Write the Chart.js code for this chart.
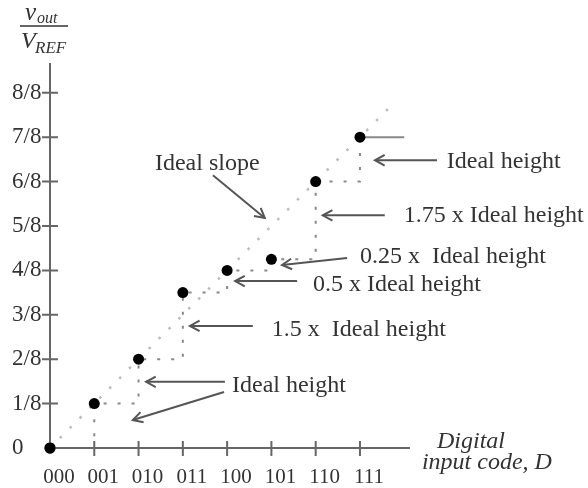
<!DOCTYPE html>
<html>
<head>
<meta charset="utf-8">
<script src="https://cdn.jsdelivr.net/npm/chart.js@4.4.1/dist/chart.umd.min.js"></script>
<style>
  html, body { margin: 0; padding: 0; background: #fff; }
  #wrap { width: 588px; height: 488px; }
</style>
</head>
<body>
<div id="wrap"><canvas id="dacChart"></canvas></div>
<script>
// digital input codes and the DAC output (in eighths of VREF)
const codeLabels = ['000', '001', '010', '011', '100', '101', '110', '111']
const codeValues = [0, 1, 2, 3, 4, 5, 6, 7]
const outputLevels = [0, 1, 2, 3.5, 4, 4.25, 6, 7]
const levelTicks = [0, 1, 2, 3, 4, 5, 6, 7, 8]
const levelLabels = ['0', '1/8', '2/8', '3/8', '4/8', '5/8', '6/8', '7/8', '8/8']
const idealCodes = [0, 7.8]
const idealLevels = [0, 7.8]
const lastStepCodes = [7, 8]
const lastStepLevels = [7, 7]

// callouts, in data units (code, eighths)
const notes = [
  { text: 'Ideal slope', x: 2.37, y: 6.41 },
  { text: 'Ideal height', x: 8.96, y: 6.44 },
  { text: '1.75 x Ideal height', x: 7.99, y: 5.24 },
  { text: '0.25 x  Ideal height', x: 7.0, y: 4.3 },
  { text: '0.5 x Ideal height', x: 5.94, y: 3.67 },
  { text: '1.5 x  Ideal height', x: 5.01, y: 2.66 },
  { text: 'Ideal height', x: 4.11, y: 1.4 }
]
const arrows = [
  { from: [3.68, 6.14], to: [4.85, 5.18] },
  { from: [8.74, 6.48], to: [7.34, 6.48] },
  { from: [7.56, 5.24], to: [6.16, 5.24] },
  { from: [6.71, 4.28], to: [5.24, 4.12] },
  { from: [5.58, 3.76], to: [4.18, 3.76] },
  { from: [4.58, 2.75], to: [3.16, 2.75] },
  { from: [3.95, 1.49], to: [2.17, 1.49] },
  { from: [3.93, 1.26], to: [1.87, 0.63] }
]

const serif = '"Liberation Serif", "DejaVu Serif", serif'
const ink = '#333'
const axisGray = '#666'

const toPoints = (xs, ys) => xs.map((x, i) => ({ x, y: ys[i] }))

const drawArrow = (ctx, x1, y1, x2, y2) => {
  const ang = Math.atan2(y2 - y1, x2 - x1)
  ctx.beginPath()
  ctx.moveTo(x1, y1)
  ctx.lineTo(x2, y2)
  ctx.stroke()
  const len = 11
  const spread = 0.5
  ctx.beginPath()
  ctx.moveTo(x2 - len * Math.cos(ang - spread), y2 - len * Math.sin(ang - spread))
  ctx.lineTo(x2, y2)
  ctx.lineTo(x2 - len * Math.cos(ang + spread), y2 - len * Math.sin(ang + spread))
  ctx.stroke()
}

const decorations = {
  id: 'decorations',
  afterDraw (chart) {
    const { ctx, chartArea } = chart
    const xs = chart.scales.x
    const ys = chart.scales.y
    ctx.save()

    // axes with ticks crossing the line
    ctx.strokeStyle = axisGray
    ctx.lineWidth = 2
    ctx.beginPath()
    ctx.moveTo(chartArea.left, chartArea.bottom)
    ctx.lineTo(chartArea.left, chartArea.top)
    ctx.moveTo(chartArea.left, chartArea.bottom)
    ctx.lineTo(chartArea.right, chartArea.bottom)
    levelTicks.slice(1).forEach(v => {
      const py = ys.getPixelForValue(v)
      ctx.moveTo(chartArea.left - 8, py)
      ctx.lineTo(chartArea.left + 8, py)
    })
    codeValues.slice(1).forEach(v => {
      const px = xs.getPixelForValue(v)
      ctx.moveTo(px, chartArea.bottom - 7)
      ctx.lineTo(px, chartArea.bottom + 8)
    })
    ctx.stroke()

    // origin dot sits on top of the axes
    const origin = chart.getDatasetMeta(0).data[0]
    ctx.fillStyle = '#000'
    ctx.beginPath()
    ctx.arc(origin.x, origin.y, 5.5, 0, Math.PI * 2)
    ctx.fill()

    // arrows
    ctx.strokeStyle = '#555'
    ctx.lineWidth = 2
    arrows.forEach(a => {
      drawArrow(ctx,
        xs.getPixelForValue(a.from[0]), ys.getPixelForValue(a.from[1]),
        xs.getPixelForValue(a.to[0]), ys.getPixelForValue(a.to[1]))
    })

    // callout texts
    ctx.fillStyle = ink
    ctx.font = '24px ' + serif
    ctx.textAlign = 'left'
    ctx.textBaseline = 'middle'
    notes.forEach(n => {
      ctx.fillText(n.text, xs.getPixelForValue(n.x), ys.getPixelForValue(n.y))
    })

    // x axis title
    ctx.font = 'italic 24px ' + serif
    ctx.fillText('Digital', xs.getPixelForValue(8.74), ys.getPixelForValue(0.135))
    ctx.fillText('input code, D', xs.getPixelForValue(8.4), ys.getPixelForValue(-0.34))

    // y axis title: vout / VREF
    ctx.textBaseline = 'alphabetic'
    ctx.font = 'italic 25px ' + serif
    ctx.fillText('v', 25, 20)
    ctx.font = 'italic 16px ' + serif
    ctx.fillText('out', 37, 23)
    ctx.font = 'italic 24px ' + serif
    ctx.fillText('V', 21, 48)
    ctx.font = 'italic 17px ' + serif
    ctx.fillText('REF', 35, 53)
    ctx.strokeStyle = ink
    ctx.lineWidth = 1.5
    ctx.beginPath()
    ctx.moveTo(20, 26)
    ctx.lineTo(68, 26)
    ctx.stroke()

    ctx.restore()
  }
}

new Chart(document.getElementById('dacChart'), {
  type: 'scatter',
  data: {
    datasets: [
      {
        label: 'Output',
        data: toPoints(codeValues, outputLevels),
        showLine: false,
        clip: false,
        pointRadius: 5.5,
        pointBackgroundColor: '#000',
        pointBorderWidth: 0,
        order: 0
      },
      {
        label: 'Steps',
        data: toPoints(codeValues, outputLevels),
        showLine: true,
        stepped: true,
        borderColor: '#888',
        borderWidth: 2,
        borderDash: [3, 11],
        pointRadius: 0,
        order: 2
      },
      {
        label: 'Last step',
        data: toPoints(lastStepCodes, lastStepLevels),
        showLine: true,
        borderColor: '#888',
        borderWidth: 2,
        pointRadius: 0,
        order: 1
      },
      {
        label: 'Ideal slope',
        data: toPoints(idealCodes, idealLevels),
        showLine: true,
        borderColor: '#bbb',
        borderWidth: 2.5,
        borderDash: [2.5, 11.5],
        pointRadius: 0,
        order: 3
      }
    ]
  },
  options: {
    responsive: true,
    maintainAspectRatio: false,
    animation: false,
    layout: { padding: { left: 12, top: 63, right: 178, bottom: 0 } },
    plugins: {
      legend: { display: false },
      tooltip: { enabled: false }
    },
    scales: {
      x: {
        type: 'linear',
        min: 0,
        max: 8.13,
        afterBuildTicks: (s) => { s.ticks = codeValues.map(v => ({ value: v })) },
        afterFit: (s) => { s.height = 40 },
        grid: { display: false, drawTicks: false },
        border: { display: false },
        ticks: {
          autoSkip: false,
          maxRotation: 0,
          padding: 17,
          labelOffset: 9,
          color: ink,
          font: { family: serif, size: 21 },
          callback: (v, i) => codeLabels[i]
        }
      },
      y: {
        type: 'linear',
        min: 0,
        max: 8.67,
        afterBuildTicks: (s) => { s.ticks = levelTicks.map(v => ({ value: v })) },
        afterFit: (s) => { s.width = 38 },
        grid: { display: false, drawTicks: false },
        border: { display: false },
        ticks: {
          crossAlign: 'far',
          color: ink,
          font: { family: serif, size: 23 },
          callback: (v, i) => levelLabels[i]
        }
      }
    }
  },
  plugins: [decorations]
})
</script>
</body>
</html>
